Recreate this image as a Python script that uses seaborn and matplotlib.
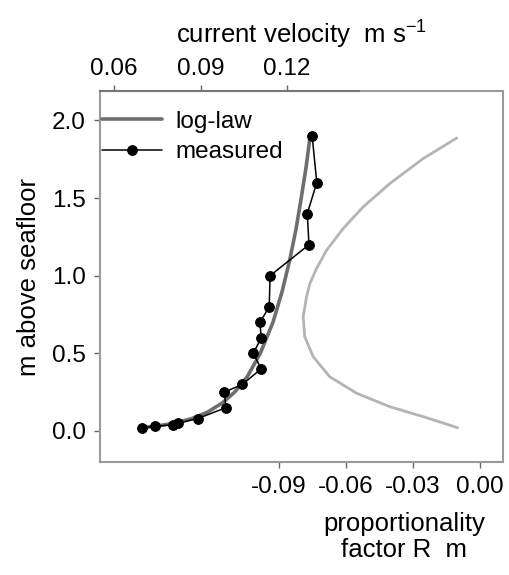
import matplotlib
matplotlib.use("Agg")
import matplotlib.pyplot as plt
import seaborn as sns
import pandas as pd

# measured profile: height above seafloor (m) and current velocity (m/s)
meas_z = [0.02, 0.03, 0.04, 0.05, 0.08, 0.15, 0.25, 0.30, 0.40, 0.50, 0.60, 0.70, 0.80, 1.00, 1.20, 1.40, 1.60, 1.90]
meas_u = [0.0696, 0.0742, 0.0804, 0.0823, 0.0890, 0.0988, 0.0982, 0.1045, 0.1110, 0.1083, 0.1110, 0.1106, 0.1138, 0.1141, 0.1276, 0.1270, 0.1303, 0.1287]

# log-law fit
log_z = [0.02, 0.03, 0.05, 0.08, 0.12, 0.18, 0.25, 0.35, 0.5, 0.7, 0.9, 1.1, 1.3, 1.5, 1.7, 1.9]
log_u = [0.0690, 0.0743, 0.0809, 0.0870, 0.0923, 0.0975, 0.1018, 0.1062, 0.1107, 0.1151, 0.1183, 0.1209, 0.1231, 0.1249, 0.1266, 0.1280]

# proportionality factor R (m)
r_z = [0.021, 0.092, 0.156, 0.243, 0.349, 0.478, 0.607, 0.736, 0.864, 0.950, 1.047, 1.165, 1.304, 1.443, 1.594, 1.755, 1.887]
r_val = [-0.0100, -0.0254, -0.0403, -0.0552, -0.0672, -0.0746, -0.0784, -0.0791, -0.0776, -0.0761, -0.0731, -0.0686, -0.0612, -0.0523, -0.0403, -0.0254, -0.0104]

sns.set_style("white")
plt.rcParams["font.family"] = ["Liberation Sans", "DejaVu Sans"]
plt.rcParams["mathtext.fontset"] = "custom"
plt.rcParams["mathtext.rm"] = "Liberation Sans"
plt.rcParams["mathtext.default"] = "regular"
plt.rcParams["text.color"] = "black"
plt.rcParams["axes.labelcolor"] = "black"
plt.rcParams["xtick.color"] = "black"
plt.rcParams["ytick.color"] = "black"

fs = 17.5
fig = plt.figure(figsize=(5.09, 5.75), dpi=100)
ax = fig.add_axes([100 / 509, 1 - 462 / 575, 403 / 509, 371 / 575])

df_r = pd.DataFrame({"z": r_z, "R": r_val})
sns.lineplot(data=df_r, x="R", y="z", sort=False, estimator=None, color="#b4b4b4", lw=2, ax=ax)
ax.set_xlim(-0.170, 0.0103)
ax.set_ylim(-0.20, 2.19)
ax.set_xticks([-0.09, -0.06, -0.03, 0.0])
ax.set_xticklabels(["-0.09", "-0.06", "-0.03", "0.00"])
ax.set_yticks([0.0, 0.5, 1.0, 1.5, 2.0])
ax.set_yticklabels(["0.0", "0.5", "1.0", "1.5", "2.0"])
ax.tick_params(axis="both", direction="out", length=4, width=1, color="#666666",
               labelsize=fs, pad=6, left=True, bottom=True)
ax.set_ylabel("m above seafloor", fontsize=fs + 1, labelpad=8)
ax.set_xlabel("proportionality\nfactor R  m", fontsize=fs + 1, linespacing=1.1)
ax.xaxis.set_label_coords(0.754, -0.135)
for s in ax.spines.values():
    s.set_color("#9a9a9a")
    s.set_linewidth(1.5)

ax2 = ax.twiny()
df_log = pd.DataFrame({"z": log_z, "u": log_u})
df_meas = pd.DataFrame({"z": meas_z, "u": meas_u})
sns.lineplot(data=df_log, x="u", y="z", sort=False, estimator=None, color="#6e6e6e", lw=2.6,
             ax=ax2, label="log-law")
sns.lineplot(data=df_meas, x="u", y="z", sort=False, estimator=None, color="black", lw=1.1,
             marker="o", markersize=7, markeredgecolor="black", ax=ax2, label="measured")
ax2.set_xlim(0.0551, 0.1949)
ax2.set_xticks([0.06, 0.09, 0.12])
ax2.set_xticklabels(["0.06", "0.09", "0.12"])
ax2.tick_params(axis="x", direction="out", length=4, width=1, color="#666666",
                labelsize=fs, pad=4, top=True)
ax2.set_xlabel("current velocity  m s$^{-1}$", fontsize=fs + 1, labelpad=10)
ax2.xaxis.set_label_position("top")
ax2.set_ylabel("")
for s in ax2.spines.values():
    s.set_visible(False)
ax2.spines["top"].set_visible(True)
ax2.spines["top"].set_color("#777777")
ax2.spines["top"].set_linewidth(1.5)
ax2.spines["top"].set_bounds(0.0551, 0.145)

leg = ax2.legend(loc="upper left", bbox_to_anchor=(0.0, 0.953), frameon=False, fontsize=fs,
                 handlelength=2.45, handletextpad=0.55, borderaxespad=0, borderpad=0.1,
                 labelspacing=0.35)

fig.savefig("out.png", dpi=100)
